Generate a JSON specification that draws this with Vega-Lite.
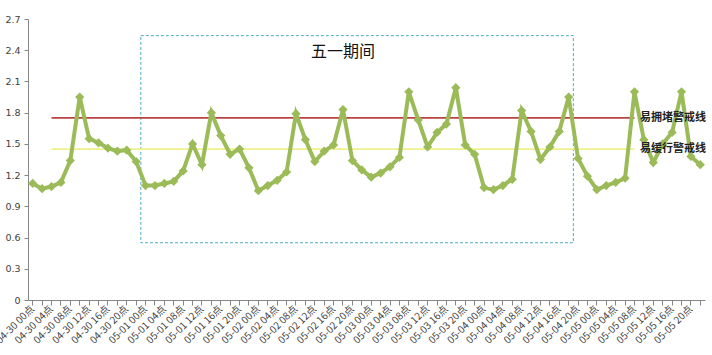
{
  "$schema": "https://vega.github.io/schema/vega-lite/v6.json",
  "width": 677,
  "height": 281,
  "autosize": {"type": "none"},
  "padding": {"left": 28, "top": 19, "right": 7, "bottom": 55},
  "background": "white",
  "config": {"view": {"stroke": null}, "font": "Noto Sans CJK SC"},
  "datasets": {
    "traffic": [
      {"t": "04-30 00点", "v": 1.12}, {"t": "04-30 02点", "v": 1.07}, {"t": "04-30 04点", "v": 1.09}, {"t": "04-30 06点", "v": 1.13},
      {"t": "04-30 08点", "v": 1.34}, {"t": "04-30 10点", "v": 1.95}, {"t": "04-30 12点", "v": 1.55}, {"t": "04-30 14点", "v": 1.51},
      {"t": "04-30 16点", "v": 1.46}, {"t": "04-30 18点", "v": 1.43}, {"t": "04-30 20点", "v": 1.44}, {"t": "04-30 22点", "v": 1.33},
      {"t": "05-01 00点", "v": 1.10}, {"t": "05-01 02点", "v": 1.10}, {"t": "05-01 04点", "v": 1.12}, {"t": "05-01 06点", "v": 1.14},
      {"t": "05-01 08点", "v": 1.24}, {"t": "05-01 10点", "v": 1.50}, {"t": "05-01 12点", "v": 1.30}, {"t": "05-01 14点", "v": 1.80},
      {"t": "05-01 16点", "v": 1.58}, {"t": "05-01 18点", "v": 1.40}, {"t": "05-01 20点", "v": 1.45}, {"t": "05-01 22点", "v": 1.27},
      {"t": "05-02 00点", "v": 1.05}, {"t": "05-02 02点", "v": 1.10}, {"t": "05-02 04点", "v": 1.15}, {"t": "05-02 06点", "v": 1.23},
      {"t": "05-02 08点", "v": 1.79}, {"t": "05-02 10点", "v": 1.54}, {"t": "05-02 12点", "v": 1.33}, {"t": "05-02 14点", "v": 1.43},
      {"t": "05-02 16点", "v": 1.49}, {"t": "05-02 18点", "v": 1.83}, {"t": "05-02 20点", "v": 1.34}, {"t": "05-02 22点", "v": 1.25},
      {"t": "05-03 00点", "v": 1.18}, {"t": "05-03 02点", "v": 1.22}, {"t": "05-03 04点", "v": 1.28}, {"t": "05-03 06点", "v": 1.37},
      {"t": "05-03 08点", "v": 2.00}, {"t": "05-03 10点", "v": 1.73}, {"t": "05-03 12点", "v": 1.47}, {"t": "05-03 14点", "v": 1.61},
      {"t": "05-03 16点", "v": 1.69}, {"t": "05-03 18点", "v": 2.04}, {"t": "05-03 20点", "v": 1.49}, {"t": "05-03 22点", "v": 1.40},
      {"t": "05-04 00点", "v": 1.08}, {"t": "05-04 02点", "v": 1.06}, {"t": "05-04 04点", "v": 1.10}, {"t": "05-04 06点", "v": 1.16},
      {"t": "05-04 08点", "v": 1.82}, {"t": "05-04 10点", "v": 1.62}, {"t": "05-04 12点", "v": 1.35}, {"t": "05-04 14点", "v": 1.47},
      {"t": "05-04 16点", "v": 1.62}, {"t": "05-04 18点", "v": 1.95}, {"t": "05-04 20点", "v": 1.36}, {"t": "05-04 22点", "v": 1.19},
      {"t": "05-05 00点", "v": 1.06}, {"t": "05-05 02点", "v": 1.10}, {"t": "05-05 04点", "v": 1.13}, {"t": "05-05 06点", "v": 1.17},
      {"t": "05-05 08点", "v": 2.00}, {"t": "05-05 10点", "v": 1.54}, {"t": "05-05 12点", "v": 1.32}, {"t": "05-05 14点", "v": 1.50},
      {"t": "05-05 16点", "v": 1.61}, {"t": "05-05 18点", "v": 2.00}, {"t": "05-05 20点", "v": 1.38}, {"t": "05-05 22点", "v": 1.30}
    ],
    "warn": [
      {"t": "04-30 04点", "v": 1.75, "name": "易拥堵警戒线"},
      {"t": "05-05 08点", "v": 1.75, "name": "易拥堵警戒线"},
      {"t": "04-30 04点", "v": 1.45, "name": "易缓行警戒线"},
      {"t": "05-05 08点", "v": 1.45, "name": "易缓行警戒线"}
    ],
    "warnLabels": [
      {"t": "05-05 10点", "v": 1.75, "name": "易拥堵警戒线"},
      {"t": "05-05 10点", "v": 1.45, "name": "易缓行警戒线"}
    ],
    "box": [
      {"t": "05-01 00点", "t2": "05-04 20点", "v": 2.54, "v2": 0.55}
    ],
    "title": [
      {"t": "05-02 18点", "v": 2.38, "label": "五一期间"}
    ]
  },
  "encoding": {
    "x": {
      "field": "t",
      "type": "ordinal",
      "title": null,
      "scale": {"paddingInner": 0, "paddingOuter": 0},
      "axis": {
        "labelAngle": -45,
        "labelAlign": "right",
        "labelBaseline": "middle",
        "labelOverlap": false,
        "labelFontSize": 10,
        "labelFont": "Noto Sans CJK SC",
        "labelColor": "#404040",
        "labelPadding": 2,
        "labelExpr": "toNumber(substring(datum.value, 6, 8)) % 4 == 0 ? datum.value : ''",
        "domainColor": "#868686",
        "tickColor": "#868686",
        "tickSize": 5,
        "grid": false
      }
    },
    "y": {
      "field": "v",
      "type": "quantitative",
      "title": null,
      "scale": {"domain": [0, 2.7], "nice": false, "zero": true},
      "axis": {
        "values": [0, 0.3, 0.6, 0.9, 1.2, 1.5, 1.8, 2.1, 2.4, 2.7],
        "labelExpr": "datum.value == 0 ? '0' : format(datum.value, '.1f')",
        "labelFont": "DejaVu Sans",
        "labelFontSize": 9.5,
        "labelColor": "#404040",
        "domainColor": "#868686",
        "tickColor": "#868686",
        "tickSize": 4,
        "labelPadding": 4,
        "grid": false
      }
    }
  },
  "layer": [
    {
      "data": {"name": "box"},
      "mark": {"type": "rect", "fill": null, "stroke": "#4bacc6", "strokeWidth": 1, "strokeDash": [3, 2]},
      "encoding": {
        "x": {"field": "t", "type": "ordinal", "bandPosition": 0},
        "x2": {"field": "t2", "bandPosition": 0},
        "y2": {"field": "v2"}
      }
    },
    {
      "data": {"name": "warn"},
      "mark": {"type": "line", "strokeWidth": 1.6},
      "encoding": {
        "color": {
          "field": "name",
          "type": "nominal",
          "scale": {"domain": ["易拥堵警戒线", "易缓行警戒线"], "range": ["#b8433f", "#eef08a"]},
          "legend": null
        }
      }
    },
    {
      "data": {"name": "traffic"},
      "mark": {
        "type": "line",
        "color": "#9bbb59",
        "strokeWidth": 4,
        "point": {"shape": "diamond", "size": 85, "filled": true, "color": "#9bbb59", "opacity": 1}
      },
      "encoding": {}
    },
    {
      "data": {"name": "warnLabels"},
      "mark": {"type": "text", "align": "left", "baseline": "middle", "dx": -4, "fontSize": 11, "fontWeight": "bold", "font": "Noto Sans CJK SC", "color": "#222222"},
      "encoding": {"text": {"field": "name"}}
    },
    {
      "data": {"name": "title"},
      "mark": {"type": "text", "align": "center", "baseline": "middle", "fontSize": 16, "font": "Noto Sans CJK SC", "color": "#111111"},
      "encoding": {"text": {"field": "label"}}
    }
  ]
}
